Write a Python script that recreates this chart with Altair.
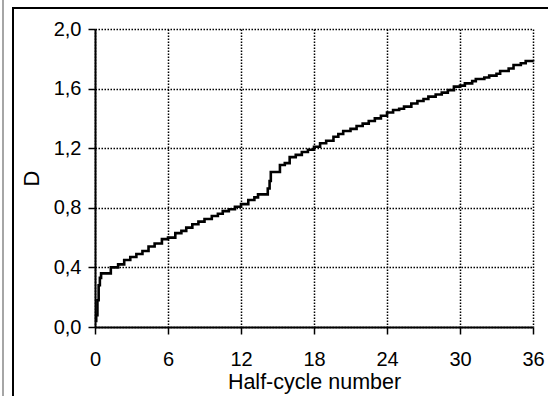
import altair as alt
import pandas as pd

half_cycle = [0, 0.1, 0.2, 0.3, 0.4, 0.5, 1.3, 1.9, 2.4, 2.9, 3.4, 3.9, 4.4, 4.9, 5.5,
              6.0, 6.6, 7.1, 7.5, 8.0, 8.5, 9.0, 9.6, 10.1, 10.5,
              11.0, 11.5, 12.0, 12.6, 13.1, 13.4, 14.2, 14.35, 14.45, 15.2,
              15.6, 16.0, 16.5, 17.0, 17.5, 18.0, 18.5, 19.0, 19.6, 20.0,
              20.4, 21.0, 21.5, 22.0, 22.5, 23.0, 23.5, 24.0, 24.5, 25.0,
              25.4, 26.0, 26.5, 27.0, 27.4, 28.0, 28.5, 29.0, 29.5, 30.0,
              30.4, 31.0, 31.3, 32.0, 32.4, 33.0, 33.3, 34.0, 34.4, 35.0,
              35.4, 36.0]
damage = [0.04, 0.08, 0.18, 0.28, 0.33, 0.36, 0.40, 0.42, 0.45, 0.47, 0.49, 0.51, 0.54, 0.56, 0.59,
          0.60, 0.63, 0.645, 0.667, 0.69, 0.707, 0.725, 0.745, 0.76, 0.778,
          0.79, 0.807, 0.825, 0.852, 0.87, 0.89, 0.93, 0.98, 1.04, 1.087,
          1.10, 1.14, 1.155, 1.175, 1.19, 1.21, 1.233, 1.25, 1.277, 1.295,
          1.315, 1.33, 1.349, 1.365, 1.383, 1.40, 1.418, 1.44, 1.456, 1.465,
          1.479, 1.50, 1.517, 1.53, 1.546, 1.56, 1.573, 1.59, 1.613, 1.62,
          1.635, 1.65, 1.664, 1.675, 1.687, 1.70, 1.718, 1.735, 1.758, 1.77,
          1.785, 1.78]
x_ticks = [0, 6, 12, 18, 24, 30, 36]
y_ticks = [0, 0.4, 0.8, 1.2, 1.6, 2.0]

df = pd.DataFrame({"n": half_cycle, "D": damage})

line = alt.Chart(df).mark_line(interpolate="step-after", color="black", strokeWidth=2.6).encode(
    x=alt.X("n:Q", scale=alt.Scale(domain=[0, 36], nice=False, zero=False),
            axis=alt.Axis(values=x_ticks, title="Half-cycle number", format="d",
                          labelBaseline="alphabetic", labelPadding=31,
                          titleX=219, titleY=61, titleBaseline="alphabetic", titleAlign="center",
                          titleFontSize=21.5)),
    y=alt.Y("D:Q", scale=alt.Scale(domain=[0, 2], nice=False),
            axis=alt.Axis(values=y_ticks, title="D",
                          labelExpr="replace(format(datum.value, '.1f'), '.', ',')",
                          labelPadding=7,
                          titleX=-64, titleY=149, titleBaseline="middle", titleAlign="center")),
)

frame_src = pd.DataFrame({"k": [0]})
top_rule = alt.Chart(frame_src).mark_rule(color="black", strokeWidth=2).encode(
    x=alt.value(-82), x2=alt.value(460), y=alt.value(-21))
left_rule = alt.Chart(frame_src).mark_rule(color="black", strokeWidth=2).encode(
    x=alt.value(-82), y=alt.value(-22), y2=alt.value(370))
gray_rule = alt.Chart(frame_src).mark_rule(color="#888888", strokeWidth=1.5).encode(
    x=alt.value(-92), y=alt.value(-30), y2=alt.value(370))

chart = alt.layer(line, top_rule, left_rule, gray_rule).properties(
    width=438, height=298,
    autosize=alt.AutoSizeParams(type="none"),
    padding={"left": 95, "top": 29, "right": 15, "bottom": 69},
    background="white",
).configure_view(stroke=None).configure_axis(
    domainColor="black", domainWidth=2,
    tickColor="black", tickSize=7, tickWidth=1.5,
    gridColor="black", gridDash=[1.5, 1.5], gridWidth=1.5, gridOpacity=1,
    labelColor="black", labelFont="Liberation Sans", labelFontSize=20,
    labelFlush=False, labelOverlap=False,
    titleColor="black", titleFont="Liberation Sans", titleFontSize=22,
    titleFontWeight="normal",
)

chart.save("out.html", embed_options={"renderer": "svg", "actions": False})
